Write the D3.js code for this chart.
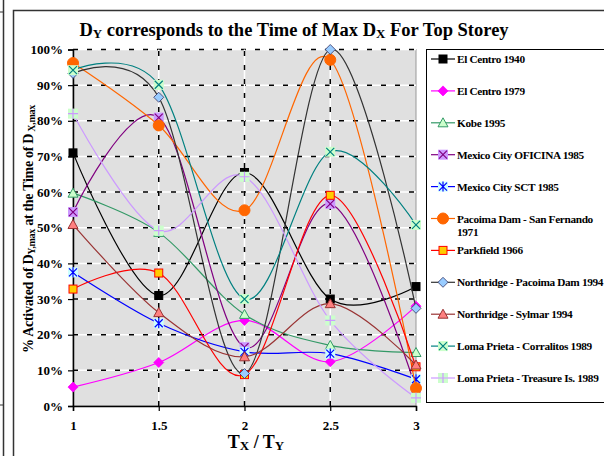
<!doctype html>
<html>
  <head>
    <script src="https://cdnjs.cloudflare.com/ajax/libs/d3/7.8.5/d3.min.js"></script>
    <style>
      body { margin: 0; background: #fff; }
      text { font-family: "Liberation Serif", "Times New Roman", serif; font-weight: bold; fill: #000; }
    </style>
  </head>
  <body>
    <svg id="chart" width="604" height="456"></svg>
    <script>
        // x categories (Tx / Ty) and y ticks
        var ratios = [1, 1.5, 2, 2.5, 3];
        var yTicks = [0, 10, 20, 30, 40, 50, 60, 70, 80, 90, 100];

        // % activated, one array per record
        var elCentro1940   = [71, 31, 65.5, 30, 33.5];
        var elCentro1979   = [5.3, 12.2, 24, 12.4, 28];
        var kobe1995       = [59.7, 48.7, 25.7, 17, 15];
        var mexOficina1985 = [54.4, 80.9, 16.5, 56.7, 4.8];
        var mexSct1985     = [37.5, 23.2, 15.2, 14.7, 7.5];
        var pacoima1971    = [96.2, 78.7, 54.9, 97.1, 5];
        var parkfield1966  = [32.8, 37.3, 8.8, 59.1, 11];
        var nrPacoima1994  = [93.3, 86.6, 9.1, 100, 27.4];
        var nrSylmar1994   = [50.9, 26.2, 13.8, 28.7, 11.5];
        var lpCorralitos   = [94.2, 90.1, 30, 71.3, 50.8];
        var lpTreasure     = [82, 49.2, 64.3, 24, 2.3];

        var names = ["El Centro 1940", "El Centro 1979", "Kobe 1995", "Mexico City OFICINA 1985",
                     "Mexico City SCT 1985", "Pacoima Dam - San Fernando 1971", "Parkfield 1966",
                     "Northridge - Pacoima Dam 1994", "Northridge - Sylmar 1994",
                     "Loma Prieta - Corralitos 1989", "Loma Prieta - Treasure Is. 1989"];
        var values = [elCentro1940, elCentro1979, kobe1995, mexOficina1985, mexSct1985, pacoima1971,
                      parkfield1966, nrPacoima1994, nrSylmar1994, lpCorralitos, lpTreasure];

        // line colour, marker type, marker fill, marker stroke
        var styles = [
            {line: "#000000", mark: "square",  fill: "#000000", stroke: "#000000"},
            {line: "#ff00ff", mark: "diamond", fill: "#ff00ff", stroke: "#ff00ff"},
            {line: "#339966", mark: "triangle",fill: "#ccffcc", stroke: "#339966"},
            {line: "#800080", mark: "xbox",    fill: "#cc99ff", stroke: "#800080"},
            {line: "#0000ff", mark: "starbox", fill: "#ccffff", stroke: "#0000ff"},
            {line: "#ff6600", mark: "circle",  fill: "#ff6600", stroke: "#ff6600"},
            {line: "#ff0000", mark: "square",  fill: "#ffcc00", stroke: "#ff0000"},
            {line: "#333333", mark: "diamond", fill: "#99ccff", stroke: "#333366"},
            {line: "#993333", mark: "triangle",fill: "#ff8080", stroke: "#993333"},
            {line: "#008080", mark: "xbox",    fill: "#ccffcc", stroke: "#008080"},
            {line: "#cc99ff", mark: "plusbox", fill: "#ccffcc", stroke: "#cc99ff"}
        ];

        var svg = d3.select("#chart");

        // outer frames
        svg.append("line").attr("x1", 3.5).attr("x2", 3.5).attr("y1", 0).attr("y2", 456)
            .style("stroke", "#333").style("stroke-width", 1.5);
        svg.append("line").attr("x1", 0).attr("x2", 3).attr("y1", 12).attr("y2", 12).style("stroke", "#333");
        svg.append("line").attr("x1", 0).attr("x2", 3).attr("y1", 405).attr("y2", 405).style("stroke", "#333");
        svg.append("rect").attr("x", 13.5).attr("y", 10.5).attr("width", 620).attr("height", 460)
            .style("fill", "none").style("stroke", "#333").style("stroke-width", 1.5);

        var x = d3.scaleLinear().domain([1, 3]).range([73, 416]);
        var y = d3.scaleLinear().domain([0, 100]).range([406, 49.5]);

        // plot area
        svg.append("rect").attr("x", x(1)).attr("y", y(100)).attr("width", x(3) - x(1)).attr("height", y(0) - y(100))
            .style("fill", "#e0e0e0").style("stroke", "#999").style("stroke-width", 1);

        // grid: white line with black dashes on top
        var grid = svg.append("g");
        yTicks.filter(d => d > 0).forEach(function(t) {
            grid.append("line").attr("x1", x(1)).attr("x2", x(3)).attr("y1", y(t)).attr("y2", y(t))
                .style("stroke", "#fff").style("stroke-width", 1.5);
            grid.append("line").attr("x1", x(1)).attr("x2", x(3)).attr("y1", y(t)).attr("y2", y(t))
                .style("stroke", "#000").style("stroke-width", 1.5).style("stroke-dasharray", "5,9");
        });
        ratios.filter(d => d > 1 && d < 3).forEach(function(t) {
            grid.append("line").attr("x1", x(t)).attr("x2", x(t)).attr("y1", y(0)).attr("y2", y(100))
                .style("stroke", "#fff").style("stroke-width", 1.5);
            grid.append("line").attr("x1", x(t)).attr("x2", x(t)).attr("y1", y(0)).attr("y2", y(100))
                .style("stroke", "#000").style("stroke-width", 1.5).style("stroke-dasharray", "5,9");
        });

        // axes
        var xAxis = d3.axisBottom(x).tickValues(ratios).tickSize(5).tickPadding(10).tickFormat(d3.format(""));
        var gx = svg.append("g").attr("transform", "translate(0," + y(0) + ")").call(xAxis);
        var yAxis = d3.axisLeft(y).tickValues(yTicks).tickSize(5).tickPadding(5).tickFormat(d => d + "%");
        var gy = svg.append("g").attr("transform", "translate(" + x(1) + ",0)").call(yAxis);
        [gx, gy].forEach(function(g) {
            g.select(".domain").style("stroke", "#000").style("stroke-width", 1.5);
            g.selectAll(".tick line").style("stroke", "#000").style("stroke-width", 1.2);
            g.selectAll(".tick text").style("font-family", "Liberation Serif").style("font-weight", "bold")
                .style("font-size", "13px").style("fill", "#000");
        });

        // markers
        function drawMarker(g, type, cx, cy, st) {
            var m = g.append("g").attr("transform", "translate(" + cx + "," + cy + ")");
            if (type == "square") {
                m.append("rect").attr("x", -4).attr("y", -4).attr("width", 8).attr("height", 8)
                    .style("fill", st.fill).style("stroke", st.stroke).style("stroke-width", 1);
            } else if (type == "diamond") {
                m.append("path").attr("d", "M0,-5L5,0L0,5L-5,0Z")
                    .style("fill", st.fill).style("stroke", st.stroke).style("stroke-width", 0.8);
            } else if (type == "triangle") {
                m.append("path").attr("d", "M0,-5L5,4L-5,4Z")
                    .style("fill", st.fill).style("stroke", st.stroke).style("stroke-width", 1);
            } else if (type == "circle") {
                m.append("circle").attr("r", 5.5).style("fill", st.fill).style("stroke", st.stroke);
            } else {
                m.append("rect").attr("x", -5).attr("y", -5).attr("width", 10).attr("height", 10)
                    .style("fill", st.fill).style("stroke", "none");
                var p = "";
                if (type == "xbox" || type == "starbox") p += "M-4,-4L4,4M4,-4L-4,4";
                if (type == "starbox" || type == "plusbox") p += "M0,-5L0,5";
                if (type == "plusbox") p += "M-5,0L5,0";
                m.append("path").attr("d", p).style("fill", "none").style("stroke", st.stroke).style("stroke-width", 1.2);
            }
        }

        var line = d3.line().x((d, i) => x(ratios[i])).y(d => y(d)).curve(d3.curveCardinal.tension(0));
        var plot = svg.append("g");
        values.forEach(function(vals, s) {
            plot.append("path").attr("d", line(vals))
                .style("fill", "none").style("stroke", styles[s].line).style("stroke-width", 1.2);
            vals.forEach(function(v, i) { drawMarker(plot, styles[s].mark, x(ratios[i]), y(v), styles[s]); });
        });

        // legend
        var leg = svg.append("g");
        leg.append("rect").attr("x", 426.5).attr("y", 49.5).attr("width", 200).attr("height", 353)
            .style("fill", "#fff").style("stroke", "#000").style("stroke-width", 1);
        names.forEach(function(n, s) {
            var ly = 59 + s * 31.9;
            leg.append("line").attr("x1", 431).attr("x2", 455).attr("y1", ly).attr("y2", ly)
                .style("stroke", styles[s].line).style("stroke-width", 1.2);
            drawMarker(leg, styles[s].mark, 443, ly, styles[s]);
            var t = leg.append("text").attr("x", 457).attr("y", ly + 4).style("font-size", "11.3px")
                .style("letter-spacing", "-0.35px");
            if (n.indexOf("San Fernando") > 0) {
                t.append("tspan").text("Pacoima Dam - San Fernando");
                t.append("tspan").attr("x", 457).attr("dy", 13).text("1971");
            } else {
                t.text(n);
            }
        });

        // title
        var title = svg.append("text").attr("x", 294).attr("y", 36).attr("text-anchor", "middle").style("font-size", "18.5px");
        title.append("tspan").text("D");
        title.append("tspan").attr("dy", 2).style("font-size", "13px").text("Y");
        title.append("tspan").attr("dy", -2).text(" corresponds to the Time of Max D");
        title.append("tspan").attr("dy", 2).style("font-size", "13px").text("X");
        title.append("tspan").attr("dy", -2).text(" For Top Storey");

        // axis titles
        var xt = svg.append("text").attr("x", 256).attr("y", 448).attr("text-anchor", "middle").style("font-size", "18px");
        xt.append("tspan").text("T");
        xt.append("tspan").attr("dy", 2).style("font-size", "13px").text("X");
        xt.append("tspan").attr("dy", -2).text(" / T");
        xt.append("tspan").attr("dy", 2).style("font-size", "13px").text("Y");

        var yt = svg.append("text").attr("transform", "translate(33,229) rotate(-90)")
            .attr("text-anchor", "middle").style("font-size", "14px").style("letter-spacing", "-0.3px");
        yt.append("tspan").text("% Activated of D");
        yt.append("tspan").attr("dy", 2).style("font-size", "10px").text("Y,max");
        yt.append("tspan").attr("dy", -2).text(" at the Time of D");
        yt.append("tspan").attr("dy", 2).style("font-size", "10px").text(" X,max");
    </script>
  </body>
</html>
